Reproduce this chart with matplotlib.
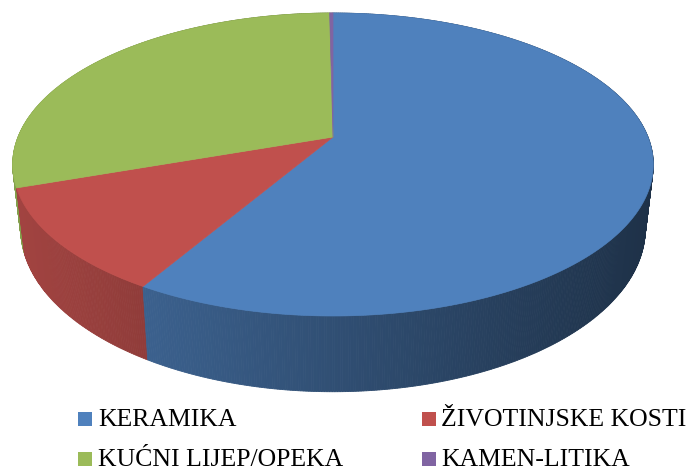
import numpy as np
import matplotlib.pyplot as plt
from matplotlib.patches import Polygon, Rectangle
import matplotlib.colors as mcolors

# data (shares)
labels = ['KERAMIKA', 'ŽIVOTINJSKE KOSTI', 'KUĆNI LIJEP/OPEKA', 'KAMEN-LITIKA']
values = [58.5, 11.2, 30.1, 0.2]
colors = ['#4F81BD', '#C0504D', '#9BBB59', '#8064A2']

W, H = 697, 472
cx, cy = 333, 137          # apex of the slices (pixels)
A, B, k = 315, 146.5, 0.1815   # perspective ellipse
d0, s = 62, 0.975          # side depth, bottom shrink

def proj(t):
    # t clockwise from 12 o'clock
    u, v = np.sin(t), -np.cos(t)
    w = 1 - k * v
    return cx + A * u / w, cy + B * v / w, v

def bottom(x, y, v):
    return cx + (x - cx) * s, y + d0 / (1 - k * v)

def shade(x):
    return np.clip(0.84 - 0.45 * (x - 20) / 620, 0.3, 0.9)

fig = plt.figure(figsize=(W / 100, H / 100), dpi=100)
ax = fig.add_axes([0, 0, 1, 1])
ax.set_xlim(0, W); ax.set_ylim(H, 0); ax.axis('off')

fr = np.array(values) / sum(values)
edges = np.concatenate([[0], np.cumsum(fr)]) * 2 * np.pi

# side walls, back to front
strips = []
for i, c in enumerate(colors):
    rgb = np.array(mcolors.to_rgb(c))
    t = np.linspace(edges[i], edges[i + 1], max(2, int(fr[i] * 900)))
    for t0, t1 in zip(t[:-1], t[1:]):
        x0, y0, v0 = proj(t0); x1, y1, v1 = proj(t1)
        bx0, by0 = bottom(x0, y0, v0); bx1, by1 = bottom(x1, y1, v1)
        col = rgb * shade((x0 + x1) / 2)
        strips.append(((v0 + v1) / 2, [(x0, y0), (x1, y1), (bx1, by1), (bx0, by0)], col))
strips.sort(key=lambda q: q[0])
for _, pts, col in strips:
    ax.add_patch(Polygon(pts, closed=True, fc=col, ec=col, lw=0.6))

# top face
for i, c in enumerate(colors):
    t = np.linspace(edges[i], edges[i + 1], max(3, int(fr[i] * 400)))
    x, y, _ = proj(t)
    pts = [(cx, cy)] + list(zip(x, y))
    ax.add_patch(Polygon(pts, closed=True, fc=c, ec=c, lw=0.5))

# legend
for i, (lab, c) in enumerate(zip(labels, colors)):
    col, row = i % 2, i // 2
    sx = [78, 422][col]; tx = [98, 441][col]
    base = [426, 466][row]
    ax.add_patch(Rectangle((sx, base - 14), 14, 14, fc=c, ec='none'))
    ax.text(tx, base, lab, fontsize=18.5, family='Liberation Serif',
            va='baseline', ha='left', color='black')

fig.savefig('out.png', dpi=100)
